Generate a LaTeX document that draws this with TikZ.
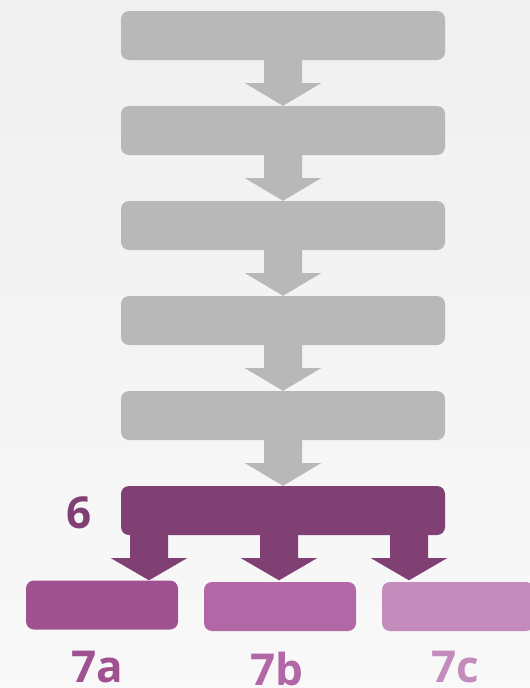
\documentclass[tikz,border=0pt]{standalone}
\usepackage{fontspec}
\setmainfont{Open Sans}
\usepackage{xcolor}
\usetikzlibrary{calc,positioning}
\definecolor{boxgray}{HTML}{B8B8B8}
\definecolor{plum6}{HTML}{804074}
\definecolor{plum7a}{HTML}{A05190}
\definecolor{plum7b}{HTML}{B267A7}
\definecolor{plum7c}{HTML}{C48BBD}
\begin{document}
\begin{tikzpicture}
		[   x=1pt,y=-1pt,
		    bnode/.style={fill=#1,rounded corners=8pt,inner sep=0pt,minimum width=324pt,minimum height=49pt},
		    snode/.style={fill=#1,rounded corners=8pt,inner sep=0pt,minimum width=152pt,minimum height=49pt},
		    lbl/.style={text=#1,font=\fontsize{44}{44}\selectfont\bfseries,anchor=base,inner sep=0pt,text depth=0pt},
		]
		\newcommand{\fatarrow}[3]{%
			\fill[#1] ($(#2)+(-19,0)$) -- ($(#2)+(-19,23)$) -- ($(#2)+(-38,23)$) -- (#3)
			-- ($(#2)+(38,23)$) -- ($(#2)+(19,23)$) -- ($(#2)+(19,0)$) -- cycle;}
		\useasboundingbox (0,0) rectangle (530,688);
		\shade[top color=black!6,bottom color=black!2.5] (0,0) rectangle (530,688);
		\clip (0,0) rectangle (530,688);
		
		\foreach \y in {1,...,5}
		{
			\node[bnode=boxgray] (s-\y) at (283,{35.5+95*(\y-1)}) {};
		}
		\node[bnode=plum6] (s-6) at (283,510.5) {};
		
		\node[snode=plum7a] (t-1) at (102,605) {};
		\node[snode=plum7b] (t-2) at (280,606.5) {};
		\node[snode=plum7c] (t-3) at (458,606.5) {};
		
		\node[lbl=plum6] (l-6) at (79,528) {6};
		\node[lbl=plum7a] (l-1) at (97,682) {7a};
		\node[lbl=plum7b] (l-2) at (277,685) {7b};
		\node[lbl=plum7c] (l-3) at (455,682) {7c};
		
		\foreach \x [evaluate=\x as \z using int(\x+1)] in {1,...,5}
		{
			\fatarrow{boxgray}{s-\x.south}{s-\z.north}
		}
		
		\coordinate (a-1) at (149,0 |- s-6.south);
		\coordinate (a-2) at (279,0 |- s-6.south);
		\coordinate (a-3) at (409,0 |- s-6.south);
		\foreach \x in {1,...,3}
		{
			\coordinate (b-\x) at (a-\x |- t-1.north);
			\fatarrow{plum6}{a-\x}{b-\x}
		}
		
\end{tikzpicture}
\end{document}
